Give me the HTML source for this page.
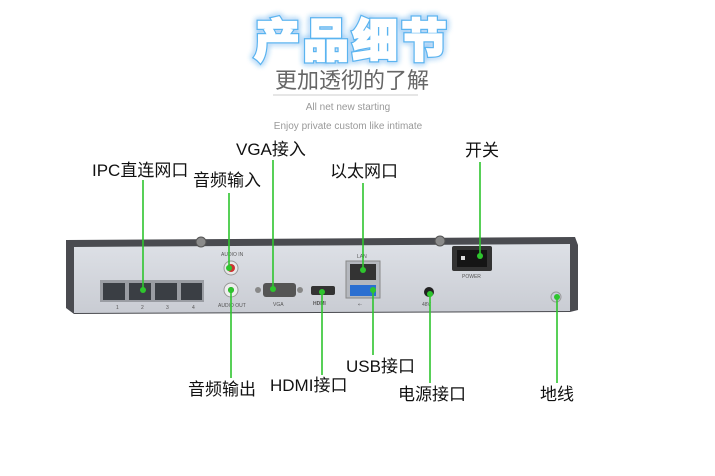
<!DOCTYPE html>
<html><head><meta charset="utf-8"><style>
html,body{margin:0;padding:0;background:#fff;}
body{width:715px;height:476px;overflow:hidden;position:relative;}
svg{position:absolute;left:0;top:0;}
.l{font-family:"Liberation Sans","Noto Sans CJK SC",sans-serif;font-size:17px;fill:#111;}
.s{font-family:"Liberation Sans",sans-serif;font-size:5px;fill:#555;}
</style></head><body>
<svg width="715" height="476" viewBox="0 0 715 476">
<defs>
<filter id="glow" x="-20%" y="-40%" width="140%" height="180%"><feGaussianBlur stdDeviation="3" result="b"/><feMerge><feMergeNode in="b"/><feMergeNode in="b"/><feMergeNode in="SourceGraphic"/></feMerge></filter>
<linearGradient id="body" x1="0" y1="0" x2="0" y2="1"><stop offset="0" stop-color="#dde0e6"/><stop offset="1" stop-color="#c9ccd3"/></linearGradient>
</defs>
<text x="352" y="57" text-anchor="middle" font-family="Noto Sans CJK SC,WenQuanYi Zen Hei,sans-serif" font-weight="900" font-size="46" fill="#fff" stroke="#5ab4f0" stroke-width="4" paint-order="stroke" filter="url(#glow)" letter-spacing="3">产品细节</text>
<text x="352" y="57" text-anchor="middle" font-family="Noto Sans CJK SC,WenQuanYi Zen Hei,sans-serif" font-weight="900" font-size="46" fill="#fff" letter-spacing="3" stroke="#fff" stroke-width="1.5">产品细节</text>
<text x="352" y="88" text-anchor="middle" font-family="Noto Sans CJK SC,sans-serif" font-size="22" fill="#666">更加透彻的了解</text>
<line x1="273" y1="95" x2="418" y2="95" stroke="#ccc" stroke-width="1"/>
<text x="348" y="110" text-anchor="middle" font-family="Liberation Sans,sans-serif" font-size="10" fill="#999">All net new starting</text>
<text x="348" y="129" text-anchor="middle" font-family="Liberation Sans,sans-serif" font-size="10" fill="#999">Enjoy private custom like intimate</text>
<path d="M66 240 L575 237 L578 245 L578 310 L570 312 L74 314 L66 308 Z" fill="#4a4b50"/>
<path d="M74 247 L570 244 L570 311 L74 313 Z" fill="url(#body)"/>
<circle cx="201" cy="242" r="5" fill="#8a8a8a" stroke="#555"/>
<circle cx="440" cy="241" r="5" fill="#8a8a8a" stroke="#555"/>
<rect x="100" y="280" width="104" height="22" fill="#9a9da3"/>
<rect x="103" y="283" width="22" height="17" fill="#3a3e44"/>
<rect x="129" y="283" width="22" height="17" fill="#3a3e44"/>
<rect x="155" y="283" width="22" height="17" fill="#3a3e44"/>
<rect x="181" y="283" width="21" height="17" fill="#3a3e44"/>
<text class="s" x="116" y="309">1</text><text class="s" x="141" y="309">2</text><text class="s" x="166" y="309">3</text><text class="s" x="192" y="309">4</text>
<text class="s" x="221" y="256">AUDIO IN</text>
<circle cx="231" cy="268" r="7" fill="#e8e8e8" stroke="#999"/><circle cx="231" cy="268" r="4" fill="#c33"/>
<circle cx="231" cy="290" r="7" fill="#eee" stroke="#999"/><circle cx="231" cy="290" r="3" fill="#333"/>
<text class="s" x="218" y="307">AUDIO OUT</text>
<circle cx="258" cy="290" r="3" fill="#888"/><circle cx="300" cy="290" r="3" fill="#888"/>
<rect x="263" y="283" width="33" height="14" rx="3" fill="#555"/>
<text class="s" x="273" y="306">VGA</text>
<rect x="311" y="286" width="24" height="9" rx="2" fill="#333"/>
<text class="s" x="313" y="305" font-weight="bold">HDMI</text>
<text class="s" x="357" y="258">LAN</text>
<rect x="346" y="261" width="34" height="37" fill="#b5b8be" stroke="#888"/>
<rect x="350" y="264" width="26" height="16" fill="#333"/>
<rect x="350" y="285" width="26" height="11" fill="#2b6fd1"/>
<text class="s" x="358" y="306">⇠</text>
<circle cx="429" cy="292" r="5" fill="#222"/>
<text class="s" x="422" y="306">48V</text>
<rect x="452" y="246" width="40" height="25" rx="2" fill="#333"/>
<rect x="457" y="250" width="30" height="17" fill="#151515"/>
<rect x="461" y="256" width="4" height="4" fill="#ddd"/>
<text class="s" x="462" y="278">POWER</text>
<circle cx="556" cy="297" r="5" fill="#ccd" stroke="#999"/>
<g stroke="#2ec52e" stroke-width="1.6" fill="none">
<line x1="143" y1="180" x2="143" y2="290"/>
<line x1="229" y1="193" x2="229" y2="268"/>
<line x1="273" y1="160" x2="273" y2="289"/>
<line x1="363" y1="183" x2="363" y2="270"/>
<line x1="480" y1="162" x2="480" y2="256"/>
<line x1="231" y1="290" x2="231" y2="378"/>
<line x1="322" y1="292" x2="322" y2="375"/>
<line x1="373" y1="290" x2="373" y2="355"/>
<line x1="430" y1="294" x2="430" y2="383"/>
<line x1="557" y1="297" x2="557" y2="383"/>
</g>
<g fill="#2ec52e">
<circle cx="143" cy="290" r="3"/><circle cx="229" cy="268" r="3"/><circle cx="273" cy="289" r="3"/>
<circle cx="363" cy="270" r="3"/><circle cx="480" cy="256" r="3"/><circle cx="231" cy="290" r="3"/>
<circle cx="322" cy="292" r="3"/><circle cx="373" cy="290" r="3"/><circle cx="430" cy="294" r="3"/><circle cx="557" cy="297" r="3"/>
</g>
<text class="l" x="92" y="176">IPC直连网口</text>
<text class="l" x="193" y="186">音频输入</text>
<text class="l" x="236" y="155">VGA接入</text>
<text class="l" x="330" y="177">以太网口</text>
<text class="l" x="465" y="156">开关</text>
<text class="l" x="188" y="395">音频输出</text>
<text class="l" x="270" y="391">HDMI接口</text>
<text class="l" x="346" y="372">USB接口</text>
<text class="l" x="398" y="400">电源接口</text>
<text class="l" x="540" y="400">地线</text>
</svg>
</body></html>
